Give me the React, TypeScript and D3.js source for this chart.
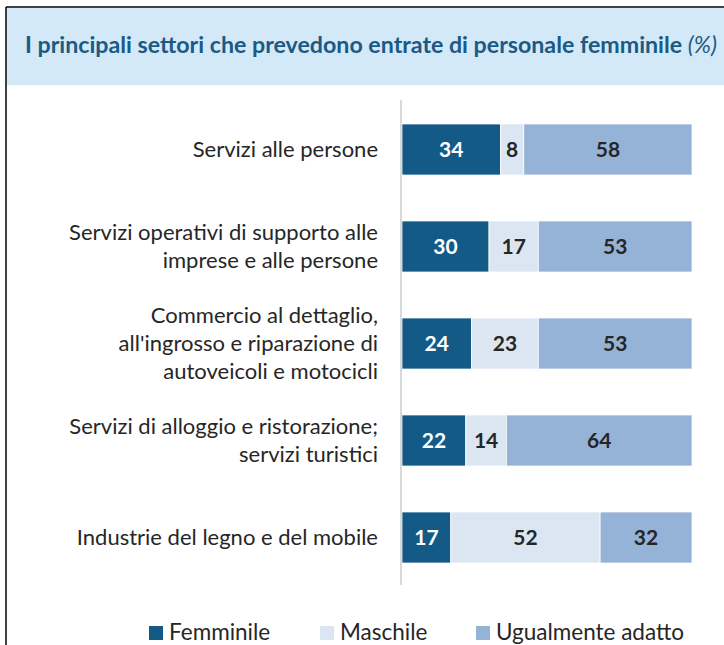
import React from "react";
import * as d3 from "d3";

const categories = [
  ["Servizi alle persone"],
  ["Servizi operativi di supporto alle", "imprese e alle persone"],
  ["Commercio al dettaglio,", "all'ingrosso e riparazione di", "autoveicoli e motocicli"],
  ["Servizi di alloggio e ristorazione;", "servizi turistici"],
  ["Industrie del legno e del mobile"],
];
const seriesNames = ["Femminile", "Maschile", "Ugualmente adatto"];
const femminile = [34, 30, 24, 22, 17];
const maschile = [8, 17, 23, 14, 52];
const ugualmente = [58, 53, 53, 64, 32];

const colors = ["#145A86", "#DCE6F2", "#95B3D7"];
const textColors = ["#FFFFFF", "#262626", "#262626"];

const W = 724;
const H = 645;
const FONT = "Lato, 'Open Sans', sans-serif";

export default function App() {
  const rows = categories.map((c, i) => ({
    key: String(i),
    Femminile: femminile[i],
    Maschile: maschile[i],
    "Ugualmente adatto": ugualmente[i],
  }));
  const stack = d3.stack<any>().keys(seriesNames).offset(d3.stackOffsetExpand);
  const layers = stack(rows);
  const raw = [femminile, maschile, ugualmente];

  const x = d3.scaleLinear().domain([0, 1]).range([402, 692]);
  const y = d3
    .scaleBand<string>()
    .domain(rows.map((r) => r.key))
    .range([101, 586])
    .paddingInner(0.474)
    .paddingOuter(0.237);

  const legendX = [149, 320, 476];

  return (
    <svg
      width={W}
      height={H}
      style={{ position: "absolute", left: 0, top: 0, background: "#fff" }}
      fontFamily={FONT}
    >
      <rect x={7} y={8} width={W} height={77} fill="#D3E9F8" />
      <line x1={6} y1={7} x2={W} y2={7} stroke="#000" strokeWidth={1.5} />
      <line x1={6} y1={7} x2={6} y2={H} stroke="#000" strokeWidth={1.5} />
      <text x={25} y={53} fontSize={23.2} fontWeight="bold" fill="#1B5A85">
        I principali settori che prevedono entrate di personale femminile{" "}
        <tspan fontStyle="italic" fontWeight="normal">(%)</tspan>
      </text>

      {layers.map((layer, si) => (
        <g key={si}>
          {layer.map((d, i) => {
            const x0 = x(d[0]);
            const x1 = x(d[1]);
            const yy = y(String(i))!;
            return (
              <g key={i}>
                <rect
                  x={x0}
                  y={yy}
                  width={x1 - x0}
                  height={y.bandwidth()}
                  fill={colors[si]}
                  stroke="#fff"
                  strokeWidth={0.75}
                />
                <text
                  x={(x0 + x1) / 2}
                  y={yy + y.bandwidth() / 2}
                  dy="0.36em"
                  textAnchor="middle"
                  fontSize={21}
                  fontWeight="bold"
                  fill={textColors[si]}
                >
                  {raw[si][i]}
                </text>
              </g>
            );
          })}
        </g>
      ))}

      <line x1={401} y1={100} x2={401} y2={585} stroke="#D9D9D9" strokeWidth={2} />

      {categories.map((lines, i) => {
        const cy = y(String(i))! + y.bandwidth() / 2;
        const lh = 28;
        const start = cy - ((lines.length - 1) * lh) / 2;
        return (
          <text key={i} textAnchor="end" fontSize={22} fill="#262626">
            {lines.map((l, j) => (
              <tspan key={j} x={378} y={start + j * lh} dy="0.36em">
                {l}
              </tspan>
            ))}
          </text>
        );
      })}

      {seriesNames.map((s, i) => (
        <g key={s}>
          <rect x={legendX[i]} y={626} width={14} height={14} fill={colors[i]} />
          <text x={legendX[i] + 20} y={640} fontSize={22.5} fill="#262626">
            {s}
          </text>
        </g>
      ))}
    </svg>
  );
}
